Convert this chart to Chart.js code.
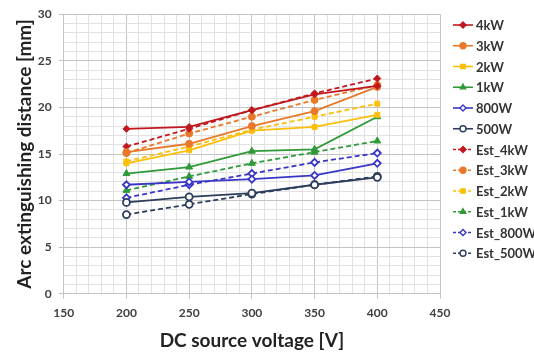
<!DOCTYPE html>
<html lang="en">
<head>
  <meta charset="UTF-8">
  <title>Arc extinguishing distance</title>
  <style>
    html, body { margin: 0; padding: 0; background: #fff; }
    #wrap { width: 534px; height: 353px; position: relative; }
  </style>
</head>
<body>
  <div id="wrap"><canvas id="arcChart"></canvas></div>

  <script src="https://cdn.jsdelivr.net/npm/chart.js"></script>
  <script>
    // voltages on the x axis
    const voltages = [200, 250, 300, 350, 400];

    // measured values [mm]
    const meas4kW  = [17.7, 17.9, 19.7, 21.4, 22.3];
    const meas3kW  = [15.2, 16.1, 18.0, 19.6, 22.2];
    const meas2kW  = [14.0, 15.4, 17.5, 17.9, 19.2];
    const meas1kW  = [12.9, 13.6, 15.3, 15.5, 19.0];
    const meas800W = [11.7, 12.0, 12.3, 12.7, 14.0];
    const meas500W = [9.8, 10.4, 10.8, 11.7, 12.5];

    // estimated values [mm]
    const est4kW  = [15.8, 17.7, 19.7, 21.5, 23.1];
    const est3kW  = [15.1, 17.2, 19.0, 20.8, 22.4];
    const est2kW  = [14.2, 15.8, 17.6, 19.0, 20.4];
    const est1kW  = [11.1, 12.6, 14.0, 15.2, 16.4];
    const est800W = [10.3, 11.7, 12.9, 14.1, 15.1];
    const est500W = [8.5, 9.6, 10.7, 11.7, 12.6];

    // labelled ticks
    const xTickLabels = [150, 200, 250, 300, 350, 400, 450];
    const yTickLabels = [0, 5, 10, 15, 20, 25, 30];

    const FONT = "Lato, 'Open Sans', sans-serif";

    const series = [
      { label: '4kW',      data: meas4kW,  color: '#c0181e', marker: 'rectRot',  hollow: false, dashed: false },
      { label: '3kW',      data: meas3kW,  color: '#e8782a', marker: 'circle',   hollow: false, dashed: false },
      { label: '2kW',      data: meas2kW,  color: '#fbbf0a', marker: 'rect',     hollow: false, dashed: false },
      { label: '1kW',      data: meas1kW,  color: '#2e9a38', marker: 'triangle', hollow: false, dashed: false },
      { label: '800W',     data: meas800W, color: '#3a36c8', marker: 'rectRot',  hollow: true,  dashed: false },
      { label: '500W',     data: meas500W, color: '#2c3e5c', marker: 'circle',   hollow: true,  dashed: false },
      { label: 'Est_4kW',  data: est4kW,   color: '#c0181e', marker: 'rectRot',  hollow: false, dashed: true },
      { label: 'Est_3kW',  data: est3kW,   color: '#e8782a', marker: 'circle',   hollow: false, dashed: true },
      { label: 'Est_2kW',  data: est2kW,   color: '#fbbf0a', marker: 'rect',     hollow: false, dashed: true },
      { label: 'Est_1kW',  data: est1kW,   color: '#2e9a38', marker: 'triangle', hollow: false, dashed: true },
      { label: 'Est_800W', data: est800W,  color: '#3a36c8', marker: 'rectRot',  hollow: true,  dashed: true },
      { label: 'Est_500W', data: est500W,  color: '#2c3e5c', marker: 'circle',   hollow: true,  dashed: true }
    ];

    const datasets = series.map(s => ({
      label: s.label,
      data: voltages.map((v, i) => ({ x: v, y: s.data[i] })),
      borderColor: s.color,
      backgroundColor: s.hollow ? '#ffffff' : s.color,
      borderWidth: 1.8,
      borderDash: s.dashed ? [5, 3] : [],
      pointStyle: s.marker,
      pointRadius: s.marker === 'triangle' ? 4 : 3.5,
      pointBorderColor: s.color,
      pointBackgroundColor: s.hollow ? '#ffffff' : s.color,
      pointBorderWidth: s.hollow ? 1.8 : 1,
      tension: 0,
      fill: false
    }));

    // legend on the right, drawn by hand so it can sit where the original one does
    const sideLegend = {
      id: 'sideLegend',
      afterDraw(chart) {
        const g = chart.ctx;
        const x0 = chart.chartArea.right + 13;
        g.save();
        g.font = 'bold 13px ' + FONT;
        g.textBaseline = 'middle';
        g.textAlign = 'left';
        chart.data.datasets.forEach((d, i) => {
          const s = series[i];
          const y = 25 + i * 20.75;
          g.strokeStyle = s.color;
          g.lineWidth = 1.6;
          g.setLineDash(s.dashed ? [3, 2] : []);
          g.beginPath(); g.moveTo(x0, y); g.lineTo(x0 + 20, y); g.stroke();
          g.setLineDash([]);
          g.fillStyle = s.hollow ? '#fff' : s.color;
          g.lineWidth = 1.4;
          Chart.helpers.drawPoint(g, { pointStyle: s.marker, radius: 3, rotation: 0, borderWidth: 1.4 }, x0 + 10, y);
          g.fillStyle = '#333';
          g.fillText(d.label, x0 + 23, y + 1);
        });
        g.restore();
      }
    };

    const ctx = document.getElementById('arcChart').getContext('2d');
    new Chart(ctx, {
      type: 'line',
      data: { datasets },
      plugins: [sideLegend],
      options: {
        responsive: true,
        maintainAspectRatio: false,
        animation: false,
        layout: { padding: { top: 9, left: 13, right: 94, bottom: 1 } },
        plugins: {
          tooltip: { enabled: false },
          legend: { display: false }
        },
        scales: {
          x: {
            type: 'linear',
            min: 150,
            max: 450,
            ticks: {
              stepSize: 10,
              autoSkip: false,
              maxRotation: 0,
              padding: 7,
              color: '#404040',
              font: { family: FONT, size: 12, weight: 'bold' },
              callback: v => xTickLabels.includes(v) ? v : ''
            },
            grid: {
              color: c => xTickLabels.includes(c.tick && c.tick.value) ? '#c4c4c4' : '#e2e2e2',
              tickColor: c => xTickLabels.includes(c.tick && c.tick.value) ? '#c4c4c4' : 'rgba(0,0,0,0)',
              tickLength: 5
            },
            border: { color: '#c4c4c4' },
            title: {
              display: true,
              text: 'DC source voltage [V]',
              color: '#222',
              font: { family: FONT, size: 19, weight: 'bold' },
              padding: { top: 2, bottom: 0 }
            }
          },
          y: {
            min: 0,
            max: 30,
            ticks: {
              stepSize: 1,
              autoSkip: false,
              padding: 7,
              color: '#404040',
              font: { family: FONT, size: 12, weight: 'bold' },
              callback: v => yTickLabels.includes(v) ? v : ''
            },
            grid: {
              color: c => yTickLabels.includes(c.tick && c.tick.value) ? '#c4c4c4' : '#e2e2e2',
              tickColor: c => yTickLabels.includes(c.tick && c.tick.value) ? '#c4c4c4' : 'rgba(0,0,0,0)',
              tickLength: 5
            },
            border: { color: '#c4c4c4' },
            title: {
              display: true,
              text: 'Arc extinguishing distance [mm]',
              color: '#222',
              font: { family: FONT, size: 19, weight: 'bold' },
              padding: { top: 0, bottom: -5 }
            }
          }
        }
      }
    });
  </script>
</body>
</html>
